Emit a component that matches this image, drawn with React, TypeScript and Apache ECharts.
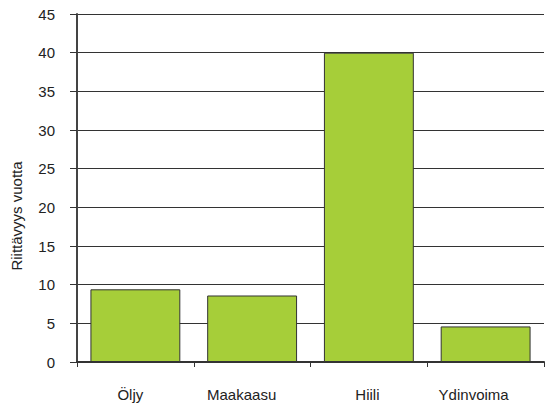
import React, { useEffect, useRef } from "react";
import * as echarts from "echarts";

const categories = ["Öljy", "Maakaasu", "Hiili", "Ydinvoima"];
const values = [9.4, 8.6, 40, 4.6];
const yAxisName = "Riittävyys vuotta";

export default function App() {
  const ref = useRef<HTMLDivElement>(null);
  useEffect(() => {
    if (!ref.current) return;
    const chart = echarts.init(ref.current, null, { renderer: "svg" });
    const font = "'Liberation Sans', Arial, sans-serif";
    const labelPadRight = [10, 21, 3, 24];
    const rich: Record<string, any> = {};
    labelPadRight.forEach((p, i) => {
      rich["c" + i] = { color: "#222", fontSize: 15, fontFamily: font, padding: [0, p, 0, 0] };
    });
    chart.setOption({
      animation: false,
      backgroundColor: "#ffffff",
      grid: { left: 77, right: 1, top: 14, bottom: 43, containLabel: false },
      xAxis: {
        type: "category",
        data: categories,
        boundaryGap: true,
        axisLine: { show: true, lineStyle: { color: "#333", width: 2 } },
        axisTick: { show: true, length: 5, interval: 0, alignWithLabel: false, lineStyle: { color: "#333", width: 1 } },
        axisLabel: {
          interval: 0,
          hideOverlap: false,
          margin: 25,
          color: "#222",
          fontSize: 15,
          fontFamily: font,
          formatter: (v: string, i: number) => `{c${i}|${v}}`,
          rich,
        },
        splitLine: { show: false },
      },
      yAxis: {
        type: "value",
        min: 0,
        max: 45,
        interval: 5,
        axisLine: { show: true, lineStyle: { color: "#444", width: 2 } },
        axisTick: { show: true, length: 7, inside: false, lineStyle: { color: "#333", width: 1 } },
        axisLabel: { margin: 22, color: "#222", fontSize: 15, fontFamily: font },
        splitLine: { show: true, lineStyle: { color: "#333", width: 1 } },
      },
      graphic: [
        {
          type: "text",
          x: 16,
          y: 216,
          rotation: Math.PI / 2,
          style: {
            text: yAxisName,
            fill: "#222",
            fontSize: 15,
            fontFamily: font,
            align: "center",
            verticalAlign: "middle",
          },
        },
      ],
      series: [
        {
          type: "bar",
          data: values,
          barWidth: "77%",
          itemStyle: { color: "#A6CE39", borderColor: "#333", borderWidth: 1 },
        },
      ],
    });
    return () => chart.dispose();
  }, []);
  return <div ref={ref} style={{ width: 545, height: 405, position: "absolute", left: 0, top: 0 }} />;
}
